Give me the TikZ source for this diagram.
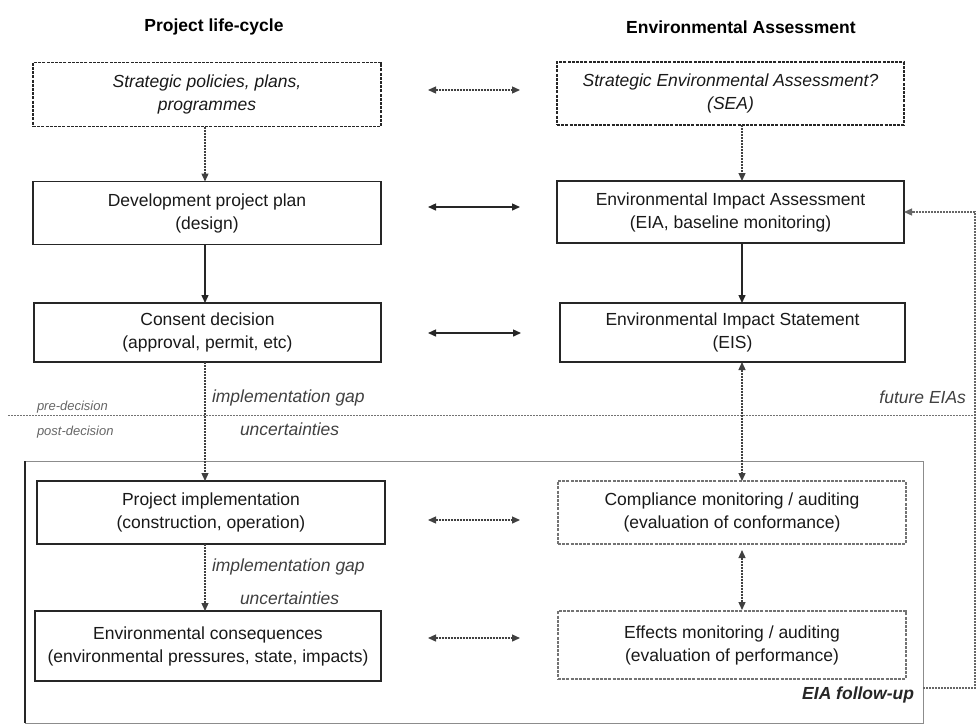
\documentclass[tikz,border=0pt]{standalone}
\usepackage{fontspec}
\setmainfont{Liberation Sans}
\usetikzlibrary{arrows.meta,calc}
\begin{document}
\begin{tikzpicture}[x=1pt,y=-1pt,
  font=\fontsize{17.5}{23}\selectfont,
  every node/.style={inner sep=0pt, outer sep=0pt},
  box/.style={draw=black!85, line width=1.4pt, align=center, text=black!90},
  dbox/.style={box, dash pattern=on 3pt off 1.2pt},
  gbox/.style={box, draw=black!55, line width=1.2pt, dash pattern=on 3pt off 1.2pt},
  tip/.style={-{Triangle[length=8pt,width=7pt]}},
  both/.style={{Triangle[length=8pt,width=7pt]}-{Triangle[length=8pt,width=7pt]}},
  solidln/.style={line width=1.4pt, draw=black!85},
  dotln/.style={line width=1.3pt, draw=black!75, dash pattern=on 2pt off 1pt},
  gapl/.style={font=\fontsize{17.5}{20}\selectfont\itshape, text=black!75},
  small/.style={font=\fontsize{13}{15}\selectfont\itshape, text=black!60}
]
\useasboundingbox (0,0) rectangle (979,724);

% column headings
\node[font=\fontsize{17.5}{20}\selectfont\bfseries] (h1) at (214,27) {Project life-cycle};
\node[font=\fontsize{17.5}{20}\selectfont\bfseries] (h2) at (741,27) {Environmental Assessment};

% project life-cycle column
\node[dbox, minimum width=348, minimum height=64] (sp) at (207,94.5)
  {\itshape Strategic policies, plans,\\\itshape programmes};
\node[box, minimum width=348, minimum height=63] (dev) at (207,213)
  {Development project plan\\(design)};
\node[box, minimum width=347, minimum height=59] (cons) at (207.5,332.5)
  {Consent decision\\(approval, permit, etc)};

% environmental assessment column
\node[dbox, minimum width=347, minimum height=63] (sea) at (730.5,93.5)
  {\itshape Strategic Environmental Assessment?\\\itshape (SEA)};
\node[box, minimum width=347, minimum height=62] (eia) at (730.5,212)
  {Environmental Impact Assessment\\(EIA, baseline monitoring)};
\node[box, minimum width=345, minimum height=59] (eis) at (732.5,332.5)
  {Environmental Impact Statement\\(EIS)};

% decision divide
\coordinate (divL) at (8,415);
\coordinate (divR) at (975,415);
\draw[black!55, line width=1pt, dash pattern=on 2pt off 1pt] (divL) -- (divR);
\node[small, anchor=west] (pre) at (37,407) {pre-decision};
\node[small, anchor=west] (post) at (37,432) {post-decision};
\node[gapl, anchor=west] (gap1) at (212,398) {implementation gap};
\node[gapl, anchor=west] (unc1) at (240,429) {uncertainties};
\node[gapl, anchor=east] (fut) at (966,397) {future EIAs};

% follow-up frame
\node[draw=black!45, line width=1pt, minimum width=898, minimum height=262, anchor=north west] (fu) at (25,461) {};
\draw[black!85, line width=1.4pt] (fu.north west) -- (fu.south west);
\node[font=\fontsize{17.5}{20}\selectfont\bfseries\itshape, text=black!85, anchor=east] (ful) at (914,695) {EIA follow-up};

% post-decision boxes
\node[box, minimum width=348, minimum height=63] (impl) at (211,512.5)
  {Project implementation\\(construction, operation)};
\node[box, minimum width=346, minimum height=70] (envc) at (208,646)
  {Environmental consequences\\(environmental pressures, state, impacts)};
\node[gbox, minimum width=348, minimum height=63] (comp) at (732,512.5)
  {Compliance monitoring / auditing\\(evaluation of conformance)};
\node[gbox, minimum width=348, minimum height=68] (eff) at (732,645)
  {Effects monitoring / auditing\\(evaluation of performance)};
\node[gapl, anchor=west] (gap2) at (212,567) {implementation gap};
\node[gapl, anchor=west] (unc2) at (240,598) {uncertainties};

% vertical flow, left column
\coordinate (lx) at (205,0);
\coordinate (rx) at (742,0);
\draw[dotln, tip] (sp.south -| lx) -- (dev.north -| lx);
\draw[solidln, tip] (dev.south -| lx) -- (cons.north -| lx);
\draw[dotln, tip] (cons.south -| lx) -- (impl.north -| lx);
\draw[dotln, tip] (impl.south -| lx) -- (envc.north -| lx);

% vertical flow, right column
\draw[dotln, tip] (sea.south -| rx) -- (eia.north -| rx);
\draw[solidln, tip] (eia.south -| rx) -- (eis.north -| rx);
\draw[dotln, both] (eis.south -| rx) -- (comp.north -| rx);
\draw[dotln, both, shorten <=6pt, shorten >=1pt] (comp.south -| rx) -- (eff.north -| rx);

% links between the columns
\coordinate (y1) at (0,90);
\coordinate (y2) at (0,207);
\coordinate (y3) at (0,333);
\coordinate (y4) at (0,520);
\coordinate (y5) at (0,638);
\draw[dotln, both, shorten <=47pt, shorten >=37pt] (sp.east |- y1) -- (sea.west |- y1);
\draw[solidln, both, shorten <=47pt, shorten >=37pt] (dev.east |- y2) -- (eia.west |- y2);
\draw[solidln, both, shorten <=47pt, shorten >=39pt] (cons.east |- y3) -- (eis.west |- y3);
\draw[dotln, both, shorten <=43pt, shorten >=38pt] (impl.east |- y4) -- (comp.west |- y4);
\draw[dotln, both, shorten <=47pt, shorten >=38pt] (envc.east |- y5) -- (eff.west |- y5);

% feedback to future assessments
\coordinate (fb1) at (975,688);
\draw[dotln, draw=black!60, tip] (fu.east |- fb1) -- (fb1) -- (fb1 |- eia.east) -- (eia.east);
\end{tikzpicture}
\end{document}
